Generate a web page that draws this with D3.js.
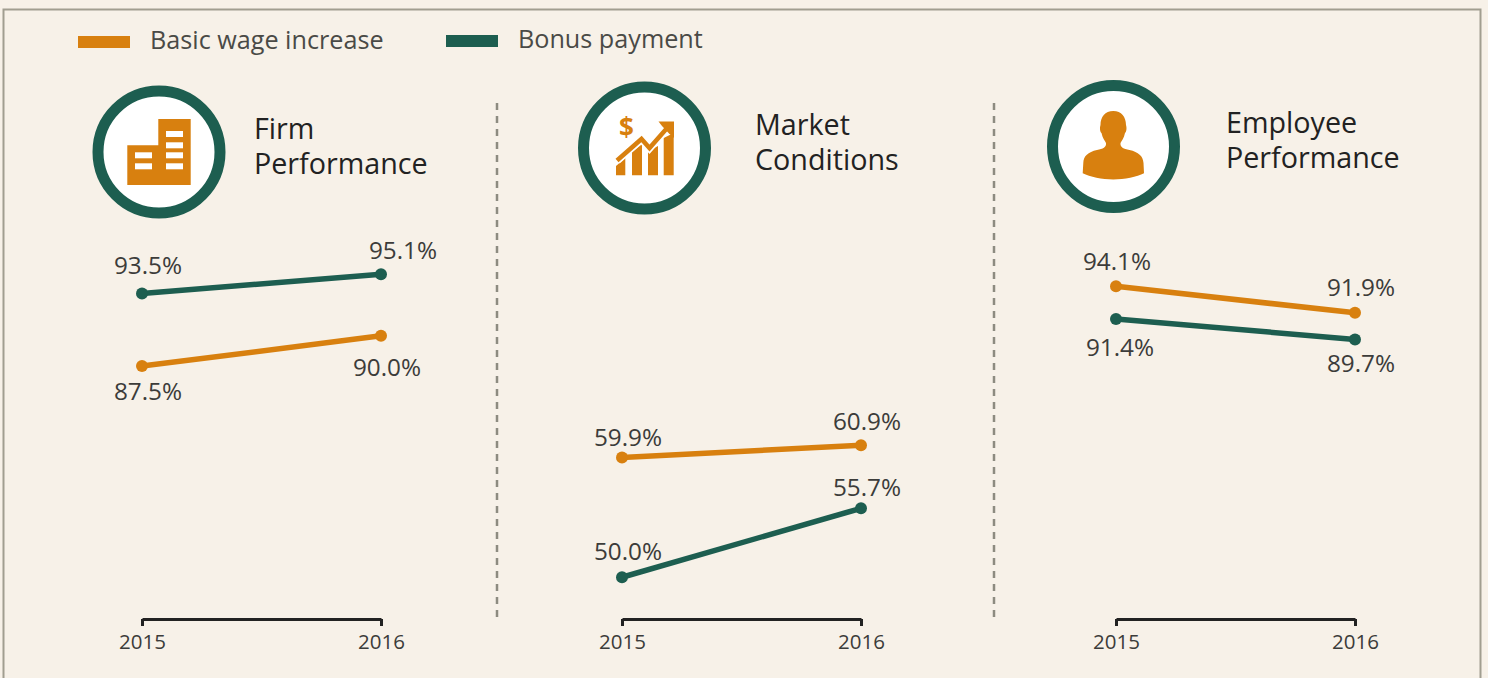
<!DOCTYPE html>
<html>
<head>
<meta charset="utf-8">
<script src="https://d3js.org/d3.v7.min.js"></script>
<style>
  html, body {margin: 0; padding: 0; background: #f7f1e8; overflow: hidden;}
  svg {display: block;}
  text {font-family: "Open Sans", "Noto Sans", sans-serif;}
  .value {font-size: 24.3px; fill: #3c3c3a;}
  .legend {font-size: 25.2px; fill: #4a4a46;}
  .title {font-size: 28.7px; fill: #222;}
  .axis text {font-size: 20.5px; fill: #3c3c3a; font-family: "Open Sans", sans-serif;}
  .axis path, .axis line {stroke: #222; stroke-width: 3px;}
</style>
</head>
<body>
<svg id="chart" width="1488" height="678"></svg>
<script>
var years = ["2015", "2016"];
var seriesNames = ["Basic wage increase", "Bonus payment"];
var panelTitles = [["Firm", "Performance"], ["Market", "Conditions"], ["Employee", "Performance"]];
var wageValues = [[87.5, 90.0], [59.9, 60.9], [94.1, 91.9]];
var bonusValues = [[93.5, 95.1], [50.0, 55.7], [91.4, 89.7]];

var orange = "#d8800f", green = "#1d5e50";
var svg = d3.select("#chart");

// y domains differ per panel, the scale per point is the same
var yDomains = [[66.64, 97.88], [46.59, 77.83], [66.64, 97.88]];
var xRanges = [[142, 381], [622, 861], [1116, 1355]];
var iconCenters = [[159, 152], [644.5, 148], [1113.5, 146.5]];
var titlePos = [[254, 139], [755, 135], [1226, 133]];
// label offsets from the point, [wage 2015, wage 2016], [bonus 2015, bonus 2016]
var wageOffsets = [[[6, 34], [6, 40]], [[6, -11], [6, -15]], [[1, -16], [6, -17]]];
var bonusOffsets = [[[6, -19], [22, -15]], [[6, -17], [6, -12]], [[4, 37], [6, 33]]];

// frame, bottom edge is cut off
svg.append("path")
  .attr("d", "M3.5,678V9.5H1480.5V678")
  .attr("fill", "none").attr("stroke", "#a19e90").attr("stroke-width", 2);

// legend
svg.append("rect").attr("x", 78).attr("y", 36).attr("width", 52).attr("height", 12).attr("fill", orange);
svg.append("text").attr("class", "legend").attr("x", 150).attr("y", 49).text(seriesNames[0]);
svg.append("rect").attr("x", 446).attr("y", 35).attr("width", 52).attr("height", 12).attr("fill", green);
svg.append("text").attr("class", "legend").attr("x", 518).attr("y", 48).text(seriesNames[1]);

// dashed dividers
[497, 994].forEach(function(x) {
  svg.append("line")
    .attr("x1", x).attr("x2", x).attr("y1", 103).attr("y2", 618)
    .attr("stroke", "#8d8b80").attr("stroke-width", 2.5).attr("stroke-dasharray", "7 6");
});

function drawSeries(x, y, values, color, offsets) {
  var rows = years.map(function(yr, i) { return {year: yr, value: values[i], off: offsets[i]}; });
  var line = d3.line().x(function(d) { return x(d.year); }).y(function(d) { return y(d.value); });
  svg.append("path").datum(rows)
    .attr("d", line).attr("fill", "none").attr("stroke", color).attr("stroke-width", 5.5);
  svg.selectAll(null).data(rows).enter().append("circle")
    .attr("cx", function(d) { return x(d.year); })
    .attr("cy", function(d) { return y(d.value); })
    .attr("r", 6).attr("fill", color);
  svg.selectAll(null).data(rows).enter().append("text")
    .attr("class", "value")
    .attr("text-anchor", "middle")
    .attr("x", function(d) { return x(d.year) + d.off[0]; })
    .attr("y", function(d) { return y(d.value) + d.off[1]; })
    .text(function(d) { return d.value.toFixed(1) + "%"; });
}

panelTitles.forEach(function(title, p) {
  var x = d3.scalePoint().domain(years).range(xRanges[p]);
  var y = d3.scaleLinear().domain(yDomains[p]).range([618.5, 240.5]);

  svg.append("g").attr("class", "axis")
    .attr("transform", "translate(0,619)")
    .call(d3.axisBottom(x).tickSize(7).tickSizeOuter(0).tickPadding(8));

  drawSeries(x, y, wageValues[p], orange, wageOffsets[p]);
  drawSeries(x, y, bonusValues[p], green, bonusOffsets[p]);

  svg.append("circle")
    .attr("cx", iconCenters[p][0]).attr("cy", iconCenters[p][1]).attr("r", 61)
    .attr("fill", "#fff").attr("stroke", green).attr("stroke-width", 11);

  // one text with two lines
  var label = svg.append("text").attr("class", "title")
    .attr("x", titlePos[p][0]).attr("y", titlePos[p][1]);
  title.forEach(function(t, i) {
    label.append("tspan").attr("x", titlePos[p][0]).attr("dy", i ? 35 : 0).text(t);
  });
});

// building icon
svg.append("path").attr("fill", orange).attr("d", "M127.3,185V145.3H158.3V119H190.7V185Z");
[[166, 131], [166, 142.3], [166, 152.3], [166, 163.3], [135, 152.3], [135, 163.3]].forEach(function(r) {
  svg.append("rect").attr("x", r[0]).attr("y", r[1]).attr("width", 17).attr("height", 6).attr("fill", "#fff");
});

// market icon
svg.append("path").attr("fill", orange).attr("d",
  "M616,175.3V166L625.3,158V175.3Z M632,175.3V152L642,144V175.3Z M648,175.3V151L658,146V175.3Z M663.7,175.3V138L673.7,133V175.3Z");
svg.append("path").attr("fill", "none").attr("stroke", "#fff").attr("stroke-width", 8)
  .attr("d", "M617,160.5L641.5,139L649.5,148L668,127");
svg.append("path").attr("fill", "none").attr("stroke", orange).attr("stroke-width", 4.5)
  .attr("d", "M617,160.5L641.5,139L649.5,148L668,127");
svg.append("path").attr("fill", orange).attr("d", "M658.5,121.5H674V138L669,133.5L662,126Z");
svg.append("text").attr("x", 626.5).attr("y", 137).attr("text-anchor", "middle")
  .attr("font-size", 26).attr("font-weight", 700).attr("fill", orange).text("$");

// person icon
svg.append("path").attr("fill", orange).attr("d",
  "M1113.3,111C1105,111 1100.5,117 1100.5,125C1099.5,128 1100,132 1101.5,133C1102.5,138 1105,141 1106,143" +
  "C1106.5,147 1103,149 1097,150C1088,152 1083.5,156 1083.3,163L1082.7,173.3C1090,177 1102,179.5 1113.3,179.5" +
  "C1124.5,179.5 1137,177 1144,173.3L1143.5,163C1143,156 1138.5,152 1129.5,150C1123.5,149 1120,147 1120.5,143" +
  "C1121.5,141 1124,138 1125,133C1126.5,132 1127,128 1126,125C1126,117 1121.5,111 1113.3,111Z");
</script>
</body>
</html>
